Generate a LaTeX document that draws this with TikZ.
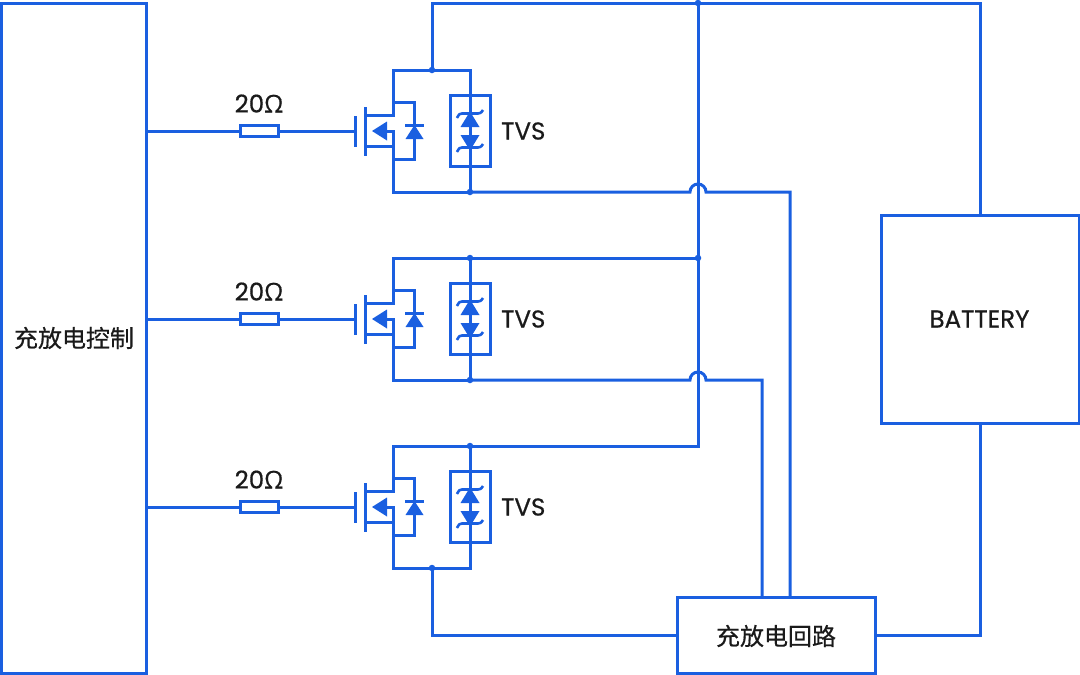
\documentclass[tikz,border=0pt]{standalone}
\usepackage{fontspec}
\setmainfont{Poppins}[FakeBold=0.6]
\newfontfamily\cjk{Noto Sans CJK SC}[FakeBold=0.5]
\newfontfamily\omegafont{Open Sans}[FakeBold=0.6]
\definecolor{wire}{HTML}{1A5FE0}
\definecolor{ink}{HTML}{1A1A1A}
\tikzset{
  x=1pt,y=-1pt,
  wireline/.style={draw=wire,line width=3pt,line join=miter},
  fine wire/.style={draw=wire,line width=2.6pt},
  blockbox/.style={draw=wire,line width=3pt,fill=white,rectangle,inner sep=0pt,outer sep=0pt,text=ink},
  resbox/.style={draw=wire,line width=3pt,fill=white,rectangle,minimum width=38pt,minimum height=11pt,inner sep=0pt,outer sep=0pt},
  tvsbox/.style={draw=wire,line width=3pt,rectangle,minimum width=40pt,minimum height=71pt,inner sep=0pt,outer sep=0pt},
  junction/.style={circle,fill=wire,minimum size=6.5pt,inner sep=0pt},
  lbl/.style={text=ink,inner sep=0pt,font=\fontsize{24.5}{26}\selectfont},
  cjklbl/.style={text=ink,inner sep=0pt,font=\cjk\fontsize{24}{26}\selectfont},
  tri/.style={fill=wire,draw=none},
}
\begin{document}
\begin{tikzpicture}
\useasboundingbox (0,0) rectangle (1080,675);
% blocks
\node[blockbox,minimum width=145pt,minimum height=670pt,anchor=north west] (ctrl) at (1,3) {};
\node[cjklbl] at (74,338) {充放电控制};
\node[blockbox,minimum width=198pt,minimum height=208pt,anchor=north west] (batt) at (881,215) {};
\node[lbl] at (979.5,319) {BATTERY};
\node[blockbox,minimum width=198pt,minimum height=76pt,anchor=north west] (loop) at (677,597) {};
\node[cjklbl] at (776,636) {充放电回路};
% three switch units
\foreach \i/\oy in {1/0,2/188,3/376}{
  \begin{scope}[yshift=-\oy pt]
    \coordinate (gate\i) at (355,131);
    \coordinate (ctrlout\i) at (146.5,131);
    \node[resbox] (res\i) at (259,131) {};
    \node[lbl] at (259,103.5) {20{\omegafont Ω}};
    \draw[wireline] (ctrlout\i) -- (res\i.west);
    \draw[wireline] (res\i.east) -- (gate\i);
    % gate plate and channel
    \draw[wireline] (355,116) -- (355,147);
    \draw[wireline] (365,107) -- (365,156);
    % outer loop
    \coordinate (top\i) at (393,70);
    \coordinate (bot\i) at (393,192);
    \coordinate (tvstop\i) at (470,70);
    \coordinate (tvsbot\i) at (470,192);
    \draw[wireline] (365,115) -- (393,115) -- (top\i) -- (tvstop\i) -- (tvsbot\i) -- (bot\i) -- (393,131) -- (376,131);
    \draw[wireline] (365,146) -- (393,146);
    \fill[tri] (372,131) -- (387,121.5) -- (387,140.5) -- cycle;
    % body diode
    \draw[wireline] (393,102) -- (414.5,102) -- (414.5,159) -- (393,159);
    \draw[wireline] (405,125) -- (424,125);
    \fill[tri] (414.5,125) -- (405.5,139) -- (423.5,139) -- cycle;
    % TVS
    \node[tvsbox] (tvs\i) at (470.5,131) {};
    \fill[tri] (470,111.5) -- (460.5,127) -- (479.5,127) -- cycle;
    \fill[tri] (470,150.5) -- (460.5,135) -- (479.5,135) -- cycle;
    \draw[fine wire] (457,118) .. controls (459,114) and (460,113.5) .. (462,113.5) -- (478,113.5) .. controls (480,113.5) and (481,113) .. (483,110);
    \draw[fine wire] (457,152) .. controls (459,148) and (460,147.5) .. (462,147.5) -- (478,147.5) .. controls (480,147.5) and (481,147) .. (483,144);
    \node[lbl,anchor=west] at (501,131) {TVS};
  \end{scope}
}
% bus
\coordinate (toprail) at (432,3);
\coordinate (busT) at (698,3);
\coordinate (busB) at (698,446);
\node[junction] (j1t) at (432,70) {};
\node[junction] (jbus) at (698,3) {};
\node[junction] (j2t) at (470,258) {};
\node[junction] (j2b) at (698,258) {};
\node[junction] (j3t) at (470,446) {};
\node[junction] (j1b) at (470,192) {};
\node[junction] (j2c) at (470,380) {};
\node[junction] (j3b) at (432,568) {};
\draw[wireline] (j1t.center) -- (toprail) -| (batt.north);
\draw[wireline] (busT) -- (busB) -- (j3t.center);
\draw[wireline] (j2t.center) -- (j2b.center);
% returns with hops
\draw[wireline] (j1b.center) -- (690,192) arc[start angle=180,end angle=0,radius=8pt] -- (790,192) -- (790,597);
\draw[wireline] (j2c.center) -- (690,380) arc[start angle=180,end angle=0,radius=8pt] -- (762,380) -- (762,597);
\draw[wireline] (j3b.center) |- (loop.west);
\draw[wireline] (loop.east) -| (batt.south);
\end{tikzpicture}
\end{document}
